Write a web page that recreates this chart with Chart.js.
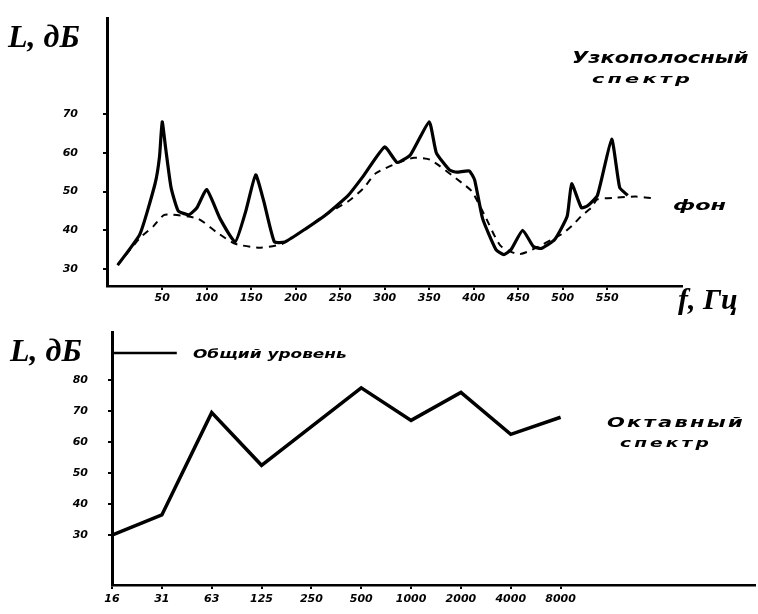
<!DOCTYPE html>
<html>
<head>
<meta charset="utf-8">
<script src="https://cdn.jsdelivr.net/npm/chart.js@4/dist/chart.umd.min.js"></script>
<style>
  html,body{margin:0;padding:0;background:#fff;}
  #wrap{position:relative;width:758px;height:614px;overflow:hidden;background:#fff;}
  canvas{position:absolute;left:0;}
  .t{position:absolute;color:#000;font-family:"DejaVu Sans",sans-serif;font-weight:bold;font-style:italic;white-space:nowrap;line-height:1;transform-origin:left top;}
  .big{font-family:"Liberation Serif",serif;font-size:32px;}
</style>
</head>
<body>
<div id="wrap">
  <canvas id="c1" width="758" height="310" style="top:0;width:758px;height:310px"></canvas>
  <canvas id="c2" width="758" height="304" style="top:310px;width:758px;height:304px"></canvas>
  <div class="t big" style="left:8px;top:20px;">L, дБ</div>
  <div class="t" style="left:572px;top:51px;font-size:15px;transform:scaleX(1.4);">Узкополосный</div>
  <div class="t" style="left:592px;top:72px;font-size:13px;letter-spacing:2px;transform:scaleX(1.6);">спектр</div>
  <div class="t" style="left:673px;top:198px;font-size:14px;transform:scaleX(1.6);">фон</div>
  <div class="t big" style="left:678px;top:284px;font-size:30px;">f, Гц</div>
  <div class="t big" style="left:10px;top:334px;">L, дБ</div>
  <div class="t" style="left:193px;top:347px;font-size:13px;transform:scaleX(1.3);">Общий уровень</div>
  <div class="t" style="left:607px;top:415px;font-size:14px;letter-spacing:1.5px;transform:scaleX(1.5);">Октавный</div>
  <div class="t" style="left:620px;top:437px;font-size:12px;letter-spacing:2px;transform:scaleX(1.55);">спектр</div>
</div>
<script>
// ---- Top panel: narrow-band spectrum ----
const narrowFreq  = [0, 25, 42, 47, 50, 54, 60, 68, 80, 89, 100, 115, 132, 144, 155, 164, 176, 188, 212, 234, 259, 276, 300, 314, 329, 350, 358, 373, 381, 395, 401, 410, 425, 434, 442, 455, 467, 476, 491, 505, 510, 521, 528, 539, 555, 564, 573];
const narrowLevel = [31, 39, 52, 59, 68, 61, 51, 45, 44, 45.8, 50.5, 43, 37, 45, 54.3, 47.6, 37, 37, 40.5, 44, 49, 54, 61.5, 57.5, 59.5, 68, 60, 55.5, 55, 55.3, 53, 43, 35, 33.7, 35, 40, 35.8, 35.3, 37.6, 43.6, 52, 45.8, 46.3, 49, 63.5, 51, 49];
const bgFreq  = [0, 25, 40, 53, 90, 111, 132, 160, 185, 212, 231, 260, 276, 290, 317, 333, 351, 388, 398, 412, 430, 450, 463, 499, 512, 521, 532, 539, 560, 582, 603];
const bgLevel = [31, 38, 41, 44, 43, 39.5, 36.5, 35.5, 36.5, 40.5, 43.7, 47.6, 50.8, 54.7, 57.6, 58.7, 58.2, 52, 50, 44, 36, 33.8, 34.7, 39, 41.5, 43.7, 45.8, 48, 48.4, 48.7, 48.2];
const topFreqTicks  = [50, 100, 150, 200, 250, 300, 350, 400, 450, 500, 550];
const topLevelTicks = [30, 40, 50, 60, 70];

// ---- Bottom panel: octave spectrum ----
const octaveBands  = ['16', '31', '63', '125', '250', '500', '1000', '2000', '4000', '8000'];
const octaveLevels = [30, 36.5, 69.5, 52.5, 65, 77.5, 67, 76, 62.5, 68];
const bottomLevelTicks = [30, 40, 50, 60, 70, 80];
const totalLevel = 88.7;

const tickFont = {family: '"DejaVu Sans", sans-serif', size: 11, weight: 'bold', style: 'italic'};
const black = '#000';

function pts(xs, ys){ return xs.map((x,i)=>({x:x, y:ys[i]})); }
function noPad(s){ s.paddingTop = 0; s.paddingBottom = 0; s.paddingLeft = 0; s.paddingRight = 0; }

new Chart(document.getElementById('c1'), {
  type: 'line',
  data: {
    datasets: [
      {data: pts(narrowFreq, narrowLevel), borderColor: black, borderWidth: 3.2, pointRadius: 0, tension: 0.15, fill: false},
      {data: pts(bgFreq, bgLevel), borderColor: black, borderWidth: 2, borderDash: [7, 6], pointRadius: 0, tension: 0.2, fill: false}
    ]
  },
  options: {
    responsive: false, animation: false, events: [],
    layout: {autoPadding: false, padding: {left: 0, right: 76, top: 18, bottom: 0}},
    plugins: {legend: {display: false}, tooltip: {enabled: false}},
    scales: {
      x: {
        type: 'linear', min: -12, max: 634,
        afterBuildTicks: s => { s.ticks = topFreqTicks.map(v => ({value: v})); },
        afterFit: s => { s.height = 24; noPad(s); },
        grid: {display: true, drawOnChartArea: false, drawTicks: true, tickLength: 4, color: black, lineWidth: 2},
        border: {display: true, color: black, width: 2.5},
        ticks: {color: black, font: tickFont, padding: 2, maxRotation: 0, autoSkip: false}
      },
      y: {
        type: 'linear', min: 25.6, max: 94.8,
        afterBuildTicks: s => { s.ticks = topLevelTicks.map(v => ({value: v})); },
        afterFit: s => { s.width = 107; noPad(s); },
        grid: {display: true, drawOnChartArea: false, drawTicks: true, tickLength: 4, color: black, lineWidth: 2},
        border: {display: true, color: black, width: 3},
        ticks: {color: black, font: tickFont, padding: 25}
      }
    }
  }
});

new Chart(document.getElementById('c2'), {
  type: 'line',
  data: {
    datasets: [
      {data: octaveLevels.map((v,i)=>({x:i, y:v})), borderColor: black, borderWidth: 3.5, pointRadius: 0, tension: 0, fill: false},
      {data: [{x: 0, y: totalLevel}, {x: 1.3, y: totalLevel}], borderColor: black, borderWidth: 2.5, pointRadius: 0, fill: false}
    ]
  },
  options: {
    responsive: false, animation: false, events: [],
    layout: {autoPadding: false, padding: {left: 0, right: 3, top: 22, bottom: 0}},
    plugins: {legend: {display: false}, tooltip: {enabled: false}},
    scales: {
      x: {
        type: 'linear', min: 0, max: 12.9,
        afterBuildTicks: s => { s.ticks = octaveBands.map((b,i) => ({value: i})); },
        afterFit: s => { s.height = 29; noPad(s); },
        grid: {display: true, drawOnChartArea: false, drawTicks: true, tickLength: 4, color: black, lineWidth: 2},
        border: {display: true, color: black, width: 2.5},
        ticks: {color: black, font: tickFont, padding: 4, maxRotation: 0, autoSkip: false,
                callback: v => octaveBands[Math.round(v)]}
      },
      y: {
        type: 'linear', min: 13.9, max: 95.5,
        afterBuildTicks: s => { s.ticks = bottomLevelTicks.map(v => ({value: v})); },
        afterFit: s => { s.width = 112; noPad(s); },
        grid: {display: true, drawOnChartArea: false, drawTicks: true, tickLength: 4, color: black, lineWidth: 2},
        border: {display: true, color: black, width: 3},
        ticks: {color: black, font: tickFont, padding: 20}
      }
    }
  }
});
</script>
</body>
</html>
